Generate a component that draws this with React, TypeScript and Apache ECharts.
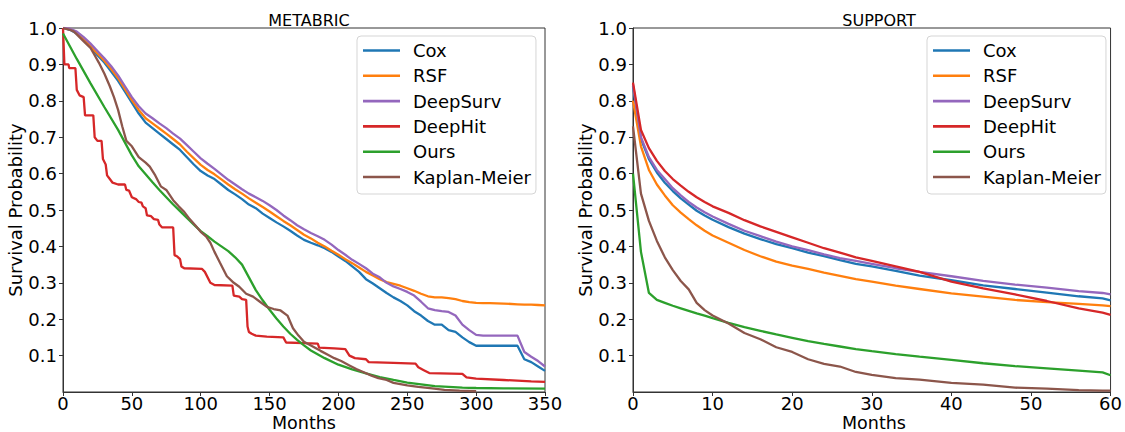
import React, { useEffect, useRef } from "react";
import * as echarts from "echarts";

const METHODS = ["Cox", "RSF", "DeepSurv", "DeepHit", "Ours", "Kaplan-Meier"];
const COLORS = ["#1f77b4", "#ff7f0e", "#9467bd", "#d62728", "#2ca02c", "#8c564b"];

// ---------- METABRIC ----------
const mbGrid = [
  0, 5, 10, 15, 20, 25, 30, 35, 40, 45, 50, 55, 60, 65, 70, 75, 80, 85, 90, 95,
  100, 105, 110, 115, 120, 125, 130, 135, 140, 145, 150, 155, 160, 165, 170, 175, 180, 185, 190, 195,
  200, 205, 210, 215, 220, 225, 230, 235, 240, 245, 250, 255, 260, 265, 270, 275, 280, 285, 290, 295,
  300, 305, 310, 320, 330, 335, 340, 345, 350,
];
const mbCox = [
  1.0, 0.995, 0.985, 0.967, 0.947, 0.925, 0.905, 0.88, 0.855, 0.825,
  0.795, 0.765, 0.74, 0.725, 0.71, 0.695, 0.68, 0.665, 0.645, 0.625,
  0.607, 0.595, 0.585, 0.57, 0.555, 0.543, 0.53, 0.515, 0.505, 0.49,
  0.478, 0.466, 0.455, 0.443, 0.43, 0.418, 0.41, 0.403, 0.395, 0.385,
  0.372, 0.36, 0.345, 0.33, 0.31, 0.298, 0.285, 0.272, 0.26, 0.25,
  0.238, 0.222, 0.21, 0.195, 0.185, 0.185, 0.17, 0.165, 0.15, 0.137,
  0.127, 0.127, 0.127, 0.127, 0.127, 0.09, 0.082, 0.07, 0.058,
];
const mbRsf = [
  1.0, 0.997, 0.988, 0.97, 0.95, 0.93, 0.91, 0.887, 0.862, 0.832,
  0.802, 0.775, 0.752, 0.738, 0.724, 0.71, 0.695, 0.68, 0.66, 0.642,
  0.624, 0.61, 0.598, 0.584, 0.57, 0.557, 0.545, 0.532, 0.52, 0.508,
  0.496, 0.483, 0.47, 0.458, 0.445, 0.432, 0.422, 0.41, 0.4, 0.388,
  0.377, 0.365, 0.354, 0.342, 0.33, 0.32, 0.31, 0.302, 0.297, 0.292,
  0.285, 0.278, 0.27, 0.263, 0.26, 0.26, 0.258, 0.255, 0.25, 0.247,
  0.245, 0.244, 0.244, 0.243, 0.241, 0.24, 0.24, 0.239, 0.238,
];
const mbDeepSurv = [
  1.0, 0.998, 0.99, 0.975, 0.957, 0.937, 0.917, 0.895, 0.87, 0.84,
  0.81, 0.785, 0.765, 0.752, 0.738, 0.725, 0.71, 0.696, 0.678, 0.66,
  0.642, 0.627, 0.613, 0.598, 0.583, 0.57, 0.557, 0.545, 0.535, 0.525,
  0.513, 0.5, 0.485, 0.472, 0.458, 0.447, 0.437, 0.428, 0.418, 0.405,
  0.39, 0.377, 0.363, 0.352, 0.34, 0.325, 0.315, 0.3, 0.29, 0.283,
  0.275, 0.265, 0.248, 0.23, 0.225, 0.222, 0.22, 0.21, 0.185, 0.17,
  0.157, 0.155, 0.155, 0.155, 0.155, 0.11, 0.097, 0.085, 0.07,
];
const mbDeepHitX = [
  0, 1, 4, 4.5, 9, 10, 12, 15, 16, 22, 23, 25, 28, 29, 31, 32, 34, 36, 40, 45,
  46, 48, 50, 53, 55, 57, 58, 60, 61, 64, 66, 69, 70, 72, 80, 81, 83, 85, 86, 88,
  101, 103, 107, 110, 123, 124, 128, 130, 133, 134, 135, 137, 140, 148, 160, 162, 175, 185, 186, 197,
  205, 208, 212, 220, 222, 240, 256, 258, 262, 266, 290, 293, 300, 320, 340, 350,
];
const mbDeepHitY = [
  1.0, 0.9, 0.9, 0.89, 0.89, 0.83, 0.815, 0.81, 0.76, 0.76, 0.7, 0.69, 0.69, 0.64, 0.625, 0.595, 0.585, 0.575, 0.57, 0.57,
  0.555, 0.553, 0.535, 0.53, 0.522, 0.52, 0.51, 0.505, 0.485, 0.483, 0.475, 0.473, 0.46, 0.452, 0.452, 0.376, 0.372, 0.365, 0.345, 0.34,
  0.338, 0.33, 0.3, 0.294, 0.292, 0.265, 0.262, 0.255, 0.253, 0.18, 0.165, 0.16, 0.155, 0.152, 0.15, 0.136, 0.134, 0.133, 0.122, 0.12,
  0.118, 0.1, 0.093, 0.09, 0.082, 0.08, 0.078, 0.068, 0.06, 0.052, 0.05, 0.04, 0.037, 0.033, 0.029, 0.028,
];
const mbOursX = [
  0, 10, 20, 30, 40, 50, 55, 60, 65, 70, 75, 80, 85, 90, 95, 100, 105, 110, 115, 120,
  125, 130, 135, 140, 145, 150, 155, 160, 165, 170, 175, 180, 190, 200, 210, 220, 230, 240, 250, 260,
  270, 280, 290, 300, 320, 350,
];
const mbOursY = [
  0.985, 0.915, 0.848, 0.783, 0.72, 0.65, 0.62, 0.598, 0.576, 0.555, 0.535, 0.515, 0.497, 0.478, 0.46, 0.442, 0.428, 0.413, 0.4, 0.387,
  0.37, 0.35, 0.315, 0.28, 0.252, 0.226, 0.202, 0.18, 0.16, 0.143, 0.128, 0.114, 0.093, 0.075, 0.062, 0.051, 0.041, 0.033, 0.026, 0.021,
  0.016, 0.014, 0.012, 0.011, 0.01, 0.009,
];
const mbKmX = [
  0, 5, 8, 12, 16, 20, 23, 26, 30, 34, 37, 40, 43, 46, 50, 55, 60, 63, 67, 71,
  75, 80, 84, 88, 92, 96, 100, 104, 107, 110, 114, 119, 124, 128, 133, 138, 143, 148, 153, 158,
  163, 167, 171, 175, 180, 187, 192, 197, 202, 208, 213, 218, 224, 229, 235, 240, 250, 258, 268, 277,
  288, 300,
];
const mbKmY = [
  1.0, 0.995, 0.99, 0.975, 0.96, 0.945, 0.925, 0.905, 0.875, 0.84, 0.81, 0.775, 0.73, 0.69, 0.675, 0.645, 0.63, 0.619, 0.595, 0.565,
  0.555, 0.527, 0.51, 0.495, 0.475, 0.458, 0.44, 0.427, 0.41, 0.385, 0.355, 0.318, 0.3, 0.289, 0.27, 0.262, 0.248, 0.234, 0.228, 0.224,
  0.21, 0.175, 0.155, 0.138, 0.128, 0.113, 0.103, 0.093, 0.085, 0.073, 0.063, 0.055, 0.045, 0.038, 0.033, 0.025, 0.018, 0.014, 0.01, 0.006,
  0.004, 0.002,
];

// ---------- SUPPORT ----------
const spMonths = [0, 1, 2, 3, 4, 5, 6, 7, 8, 9, 10, 12, 14, 16, 18, 20, 22, 24, 26, 28, 30, 33, 36, 40, 44, 48, 52, 56, 59, 60];
const spCox = [0.84, 0.695, 0.64, 0.603, 0.575, 0.552, 0.532, 0.515, 0.498, 0.485, 0.473, 0.453, 0.435, 0.42, 0.406, 0.395, 0.383, 0.373, 0.362, 0.352, 0.345, 0.333, 0.32, 0.307, 0.293, 0.283, 0.273, 0.263, 0.257, 0.252];
const spRsf = [0.8, 0.675, 0.61, 0.57, 0.54, 0.513, 0.493, 0.475, 0.458, 0.443, 0.43, 0.41, 0.39, 0.373, 0.358, 0.347, 0.338, 0.328, 0.319, 0.31, 0.303, 0.292, 0.283, 0.271, 0.262, 0.253, 0.247, 0.242, 0.238, 0.236];
const spDeepSurv = [0.845, 0.7, 0.645, 0.61, 0.585, 0.56, 0.54, 0.522, 0.507, 0.494, 0.482, 0.462, 0.443, 0.428, 0.413, 0.4, 0.39, 0.378, 0.368, 0.36, 0.352, 0.34, 0.33, 0.318, 0.305, 0.295, 0.287, 0.277, 0.272, 0.268];
const spDeepHit = [0.85, 0.72, 0.67, 0.635, 0.607, 0.585, 0.567, 0.55, 0.535, 0.522, 0.51, 0.492, 0.472, 0.455, 0.44, 0.425, 0.41, 0.395, 0.383, 0.37, 0.36, 0.345, 0.33, 0.303, 0.285, 0.268, 0.25, 0.23, 0.218, 0.212];
const spOurs = [0.6, 0.385, 0.272, 0.253, 0.245, 0.237, 0.23, 0.223, 0.216, 0.21, 0.203, 0.19, 0.178, 0.168, 0.158, 0.149, 0.14, 0.132, 0.125, 0.118, 0.112, 0.104, 0.097, 0.088, 0.079, 0.071, 0.065, 0.059, 0.054, 0.046];
const spKm = [0.73, 0.545, 0.47, 0.415, 0.37, 0.335, 0.305, 0.282, 0.245, 0.225, 0.21, 0.188, 0.162, 0.145, 0.123, 0.11, 0.09, 0.077, 0.07, 0.055, 0.047, 0.038, 0.034, 0.025, 0.02, 0.012, 0.009, 0.005, 0.004, 0.004];

const TITLES = ["METABRIC", "SUPPORT"];
const X_MAX = [350, 60];
const X_INTERVAL = [50, 10];
const Y_LABEL = "Survival Probability";
const X_LABEL = "Months";

const FONT = "DejaVu Sans";
const zip = (xs: number[], ys: number[]) => xs.map((x, i) => [x, ys[i]]);

const panels = [
  [
    zip(mbGrid, mbCox),
    zip(mbGrid, mbRsf),
    zip(mbGrid, mbDeepSurv),
    zip(mbDeepHitX, mbDeepHitY),
    zip(mbOursX, mbOursY),
    zip(mbKmX, mbKmY),
  ],
  [
    zip(spMonths, spCox),
    zip(spMonths, spRsf),
    zip(spMonths, spDeepSurv),
    zip(spMonths, spDeepHit),
    zip(spMonths, spOurs),
    zip(spMonths, spKm),
  ],
];

const GRID_LEFTS = [63, 633];
const PLOT_W = 482;
const PLOT_TOP = 28;
const PLOT_H = 364;

export default function App() {
  const ref = useRef<HTMLDivElement>(null);
  useEffect(() => {
    if (!ref.current) return;
    const chart = echarts.init(ref.current, undefined, { renderer: "svg" });
    const textBase = { fontFamily: FONT, color: "#000" };
    const option: any = {
      animation: false,
      backgroundColor: "#fff",
      title: TITLES.map((t, i) => ({
        text: t,
        left: GRID_LEFTS[i] + PLOT_W / 2,
        textAlign: "center",
        top: 7,
        textStyle: { ...textBase, fontSize: 16, fontWeight: "normal" },
      })),
      graphic: GRID_LEFTS.map((l) => ({
        type: "text",
        x: l + PLOT_W / 2,
        y: 423,
        silent: true,
        style: {
          text: X_LABEL,
          fontFamily: FONT,
          fontSize: 17.5,
          lineHeight: 17,
          fill: "#000",
          align: "center",
          verticalAlign: "middle",
        },
      })),
      grid: GRID_LEFTS.map((l) => ({
        left: l,
        top: PLOT_TOP,
        width: PLOT_W,
        height: PLOT_H,
        show: true,
        borderColor: "#333",
        borderWidth: 1,
        backgroundColor: "transparent",
      })),
      legend: GRID_LEFTS.map((l) => ({
        data: METHODS,
        orient: "vertical",
        left: l + 294,
        top: 36,
        padding: [5.5, 5, 8, 6],
        itemGap: 7.3,
        itemWidth: 37,
        itemHeight: 2.6,
        icon: "rect",
        backgroundColor: "rgba(255,255,255,0.8)",
        borderColor: "#d5d5d5",
        borderWidth: 1,
        borderRadius: 4,
        selectedMode: false,
        textStyle: { ...textBase, fontSize: 18, padding: [0, 0, 0, 8] },
      })),
      xAxis: [0, 1].map((i) => ({
        gridIndex: i,
        type: "value",
        min: 0,
        max: X_MAX[i],
        interval: X_INTERVAL[i],
        axisLine: { show: true, lineStyle: { color: "#333", width: 1 } },
        axisTick: { show: true, length: 4, lineStyle: { color: "#333" } },
        axisLabel: { ...textBase, fontSize: 18, lineHeight: 15, margin: 4 },
        splitLine: { show: false },
      })),
      yAxis: [0, 1].map((i) => ({
        gridIndex: i,
        type: "value",
        min: 0,
        max: 1,
        interval: 0.1,
        name: Y_LABEL,
        nameLocation: "middle",
        nameGap: 36,
        nameTextStyle: { ...textBase, fontSize: 18 },
        axisLine: { show: true, lineStyle: { color: "#333", width: 1 } },
        axisTick: { show: true, length: 4, lineStyle: { color: "#333" } },
        axisLabel: {
          ...textBase,
          fontSize: 18,
          margin: 6,
          showMinLabel: false,
          formatter: (v: number) => v.toFixed(1),
        },
        splitLine: { show: false },
      })),
      series: panels.flatMap((panel, gi) =>
        panel.map((data, si) => ({
          name: METHODS[si],
          type: "line",
          xAxisIndex: gi,
          yAxisIndex: gi,
          data,
          symbol: "none",
          showSymbol: false,
          color: COLORS[si],
          lineStyle: { width: 2.3, color: COLORS[si] },
          z: 2 + si,
        }))
      ),
    };
    chart.setOption(option);
    return () => chart.dispose();
  }, []);
  return (
    <div
      ref={ref}
      style={{ position: "absolute", left: 0, top: 0, width: 1125, height: 432 }}
    />
  );
}
